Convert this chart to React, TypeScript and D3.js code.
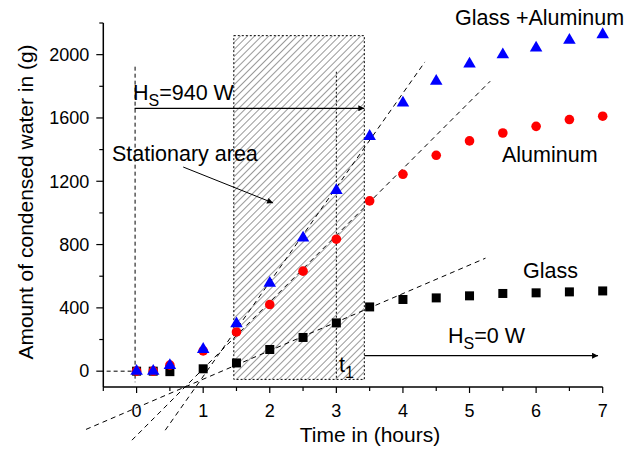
import { useEffect, useRef } from "react";
import * as d3 from "d3";

const hours = [0, 0.25, 0.5, 1, 1.5, 2, 2.5, 3, 3.5, 4, 4.5, 5, 5.5, 6, 6.5, 7];
const glass = [0, 0, -3, 15, 52, 137, 213, 305, 406, 453, 463, 476, 491, 495, 501, 507];
const aluminum = [0, 0, 38, 128, 248, 421, 632, 834, 1076, 1244, 1364, 1455, 1505, 1547, 1590, 1611];
const glassAl = [0, 0, 36, 138, 300, 556, 842, 1142, 1484, 1695, 1832, 1941, 2000, 2042, 2091, 2127];

// dashed fit lines, [hour, grams] endpoints
const glassFit = [[-0.76, -368], [5.24, 714]];
const alFit = [[-0.07, -436], [5.31, 1832]];
const glassAlFit = [[0.43, -373], [4.33, 1954]];

const xTicks = [0, 1, 2, 3, 4, 5, 6, 7];
const yTicks = [0, 400, 800, 1200, 1600, 2000];

const stationary = { x0: 1.46, x1: 3.42, y0: -52, y1: 2120 };

export default function App() {
  const svgRef = useRef<SVGSVGElement>(null);

  useEffect(() => {
    const svg = d3.select(svgRef.current);
    svg.selectAll("*").remove();

    const W = 643, H = 451;
    const font = "'Liberation Sans', Arial, sans-serif";
    const x = d3.scaleLinear().domain([-0.5, 7]).range([103.3, 602.7]);
    const y = d3.scaleLinear().domain([-100, 2200]).range([387, 23]);

    const defs = svg.append("defs");
    defs.append("pattern")
      .attr("id", "hatch")
      .attr("patternUnits", "userSpaceOnUse")
      .attr("width", 5)
      .attr("height", 10)
      .attr("patternTransform", "rotate(45)")
      .append("line")
      .attr("x1", 0).attr("y1", 0).attr("x2", 0).attr("y2", 10)
      .attr("stroke", "#333")
      .attr("stroke-width", 1);
    defs.append("marker")
      .attr("id", "arrow")
      .attr("viewBox", "0 0 10 10")
      .attr("refX", 10).attr("refY", 5)
      .attr("markerWidth", 10).attr("markerHeight", 6)
      .attr("markerUnits", "userSpaceOnUse")
      .attr("orient", "auto")
      .append("path")
      .attr("d", "M0,0 L10,5 L0,10 z")
      .attr("fill", "#000");

    svg.append("rect").attr("width", W).attr("height", H).attr("fill", "#fff");

    // stationary area
    svg.append("rect")
      .attr("x", x(stationary.x0))
      .attr("y", y(stationary.y1))
      .attr("width", x(stationary.x1) - x(stationary.x0))
      .attr("height", y(stationary.y0) - y(stationary.y1))
      .attr("fill", "url(#hatch)")
      .attr("stroke", "#000")
      .attr("stroke-width", 1)
      .attr("stroke-dasharray", "2,2");

    // t1 dotted line
    svg.append("line")
      .attr("x1", x(3)).attr("x2", x(3))
      .attr("y1", y(1892)).attr("y2", y(stationary.y0))
      .attr("stroke", "#000").attr("stroke-dasharray", "2,2");

    // vertical dashed at t=0 and horizontal dashed at 0 g
    svg.append("line")
      .attr("x1", x(0) - 1.5).attr("x2", x(0) - 1.5)
      .attr("y1", y(1924)).attr("y2", y(-70))
      .attr("stroke", "#000").attr("stroke-dasharray", "4,3");
    svg.append("line")
      .attr("x1", x(-0.45)).attr("x2", x(0))
      .attr("y1", y(0)).attr("y2", y(0))
      .attr("stroke", "#000").attr("stroke-dasharray", "4,3");

    // fit lines
    const line = d3.line<number[]>().x((d) => x(d[0])).y((d) => y(d[1]));
    [glassFit, alFit, glassAlFit].forEach((f) => {
      svg.append("path")
        .attr("d", line(f))
        .attr("fill", "none")
        .attr("stroke", "#000")
        .attr("stroke-width", 1)
        .attr("stroke-dasharray", "5,4");
    });

    // axes
    const gx = svg.append("g").attr("transform", `translate(0,${y(-100)})`);
    gx.append("line").attr("x1", x(-0.5)).attr("x2", x(7)).attr("stroke", "#000").attr("stroke-width", 1.5);
    d3.range(-0.5, 7.01, 0.5).forEach((t) => {
      const major = Number.isInteger(t);
      gx.append("line")
        .attr("x1", x(t)).attr("x2", x(t))
        .attr("y1", 0).attr("y2", major ? 6 : 4)
        .attr("stroke", "#000").attr("stroke-width", 1.2);
    });
    xTicks.forEach((t) => {
      gx.append("text")
        .attr("x", x(t)).attr("y", 30)
        .attr("text-anchor", "middle")
        .attr("font-family", font).attr("font-size", 18)
        .text(t);
    });

    const gy = svg.append("g").attr("transform", `translate(${x(-0.5)},0)`);
    gy.append("line").attr("y1", y(-100)).attr("y2", y(2200)).attr("stroke", "#000").attr("stroke-width", 1.5);
    d3.range(0, 2201, 200).forEach((t) => {
      const major = t % 400 === 0;
      gy.append("line")
        .attr("y1", y(t)).attr("y2", y(t))
        .attr("x1", 0).attr("x2", major ? -7 : -4)
        .attr("stroke", "#000").attr("stroke-width", 1.2);
    });
    yTicks.forEach((t) => {
      gy.append("text")
        .attr("x", -14).attr("y", y(t))
        .attr("dy", "0.35em")
        .attr("text-anchor", "end")
        .attr("font-family", font).attr("font-size", 18)
        .text(t);
    });

    svg.append("text")
      .attr("x", 370).attr("y", 442)
      .attr("text-anchor", "middle")
      .attr("font-family", font).attr("font-size", 21)
      .text("Time in (hours)");
    svg.append("text")
      .attr("transform", `translate(33,202) rotate(-90)`)
      .attr("text-anchor", "middle")
      .attr("font-family", font).attr("font-size", 21)
      .text("Amount of condensed water in (g)");

    // markers
    const pts = (vals: number[]) => hours.map((h, i) => [h, vals[i]]);
    svg.append("g").selectAll("rect").data(pts(glass)).join("rect")
      .attr("x", (d) => x(d[0]) - 4.5).attr("y", (d) => y(d[1]) - 4.5)
      .attr("width", 9).attr("height", 9).attr("fill", "#000");
    svg.append("g").selectAll("circle").data(pts(aluminum)).join("circle")
      .attr("cx", (d) => x(d[0])).attr("cy", (d) => y(d[1]))
      .attr("r", 4.8).attr("fill", "#ff0000");
    const tri = d3.symbol().type(d3.symbolTriangle).size(68);
    svg.append("g").selectAll("path").data(pts(glassAl)).join("path")
      .attr("transform", (d) => `translate(${x(d[0])},${y(d[1])})`)
      .attr("d", tri())
      .attr("fill", "#0000ff");

    // arrows
    svg.append("line")
      .attr("x1", x(0) - 2).attr("x2", x(stationary.x1))
      .attr("y1", y(1661)).attr("y2", y(1661))
      .attr("stroke", "#000").attr("stroke-width", 1.3)
      .attr("marker-end", "url(#arrow)");
    svg.append("line")
      .attr("x1", x(stationary.x1)).attr("x2", x(6.93))
      .attr("y1", y(98)).attr("y2", y(98))
      .attr("stroke", "#000").attr("stroke-width", 1.3)
      .attr("marker-end", "url(#arrow)");
    svg.append("line")
      .attr("x1", x(0.7)).attr("y1", y(1290))
      .attr("x2", x(2.05)).attr("y2", y(1063))
      .attr("stroke", "#000").attr("stroke-width", 1)
      .attr("marker-end", "url(#arrow)");

    // annotations
    const label = (tx: number, ty: number, s: string) =>
      svg.append("text").attr("x", tx).attr("y", ty)
        .attr("font-family", font).attr("font-size", 21.5).text(s);
    label(455, 25, "Glass +Aluminum");
    label(502, 162, "Aluminum");
    label(523, 278, "Glass");
    label(112, 161, "Stationary area");

    const sub = (tx: number, ty: number, a: string, b: string, c: string) => {
      const t = svg.append("text").attr("x", tx).attr("y", ty)
        .attr("font-family", font).attr("font-size", 21.5);
      t.append("tspan").text(a);
      t.append("tspan").attr("font-size", 16).attr("dy", 6).text(b);
      t.append("tspan").attr("dy", -6).text(c);
    };
    sub(133, 100, "H", "S", "=940 W");
    sub(448, 343, "H", "S", "=0 W");
    sub(339, 372, "t", "1", "");
  }, []);

  return (
    <svg ref={svgRef} width={643} height={451} style={{ position: "absolute", left: 0, top: 0 }} />
  );
}
